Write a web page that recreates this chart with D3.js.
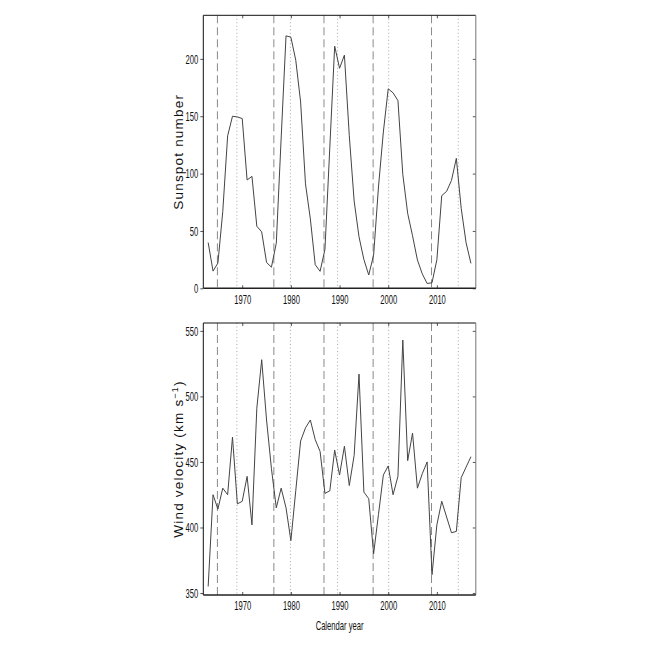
<!DOCTYPE html>
<html><head><meta charset="utf-8">
<script src="https://cdn.jsdelivr.net/npm/d3@7"></script>
<style>body{margin:0;background:#fff} svg{display:block}</style>
</head><body>
<script>
const years = [1963,1964,1965,1966,1967,1968,1969,1970,1971,1972,1973,1974,1975,1976,1977,1978,1979,1980,1981,1982,1983,1984,1985,1986,1987,1988,1989,1990,1991,1992,1993,1994,1995,1996,1997,1998,1999,2000,2001,2002,2003,2004,2005,2006,2007,2008,2009,2010,2011,2012,2013,2014,2015,2016,2017];
const sunspot = [39.9,15.0,22.0,66.8,132.9,150.0,149.4,148.0,94.4,97.6,54.1,49.2,22.5,18.4,39.3,131.0,220.1,218.9,198.9,162.4,91.0,60.5,20.6,14.8,33.9,123.0,211.1,191.8,203.3,133.0,76.1,44.9,25.1,11.6,28.9,88.3,136.3,173.9,170.4,163.6,99.3,65.3,45.8,24.7,12.6,4.2,4.8,24.9,80.8,84.5,94.0,113.3,69.8,39.8,21.7];
const wind = [355,425,414,430,425,469,418,420,439,402,491,528,482,445,415,430,415,390,428,466,476,482,467,458,426,428,459,440,462,432,455,517,427,422,380,410,440,447,425,439,543,451,472,430,441,450,364,402,420,408,396,397,438,446,454];
const cycleMinima = [1964.9, 1976.5, 1986.8, 1996.9, 2008.9];
const cycleMaxima = [1968.9, 1979.9, 1989.6, 2000.1, 2014.4];
const xTicks = [1970, 1980, 1990, 2000, 2010];
const sunTicks = [0, 50, 100, 150, 200];
const windTicks = [350, 400, 450, 500, 550];

const W = 654, H = 654;
const svg = d3.select("body").append("svg").attr("width", W).attr("height", H);
const left = 203.3, right = 475.8;
const x = d3.scaleLinear().domain([1962, 2018]).range([left, right]);
const SX = 0.61;
const tickFont = "'Liberation Sans', Arial, sans-serif";

const panels = [
  {id: "p1", top: 15.3, bottom: 288.3, domain: [0, 238], ticks: sunTicks, values: sunspot, label: "Sunspot number"},
  {id: "p2", top: 323, bottom: 595, domain: [348.5, 556], ticks: windTicks, values: wind, label: null}
];

panels.forEach(p => {
  const y = d3.scaleLinear().domain(p.domain).range([p.bottom, p.top]);
  const g = svg.append("g");
  g.append("clipPath").attr("id", "clip-" + p.id).append("rect")
    .attr("x", left).attr("y", p.top).attr("width", right - left).attr("height", p.bottom - p.top);
  const inner = g.append("g").attr("clip-path", "url(#clip-" + p.id + ")");

  inner.selectAll("line.min").data(cycleMinima).join("line")
    .attr("x1", d => x(d)).attr("x2", d => x(d)).attr("y1", p.top).attr("y2", p.bottom)
    .attr("stroke", "#8a8a8a").attr("stroke-width", 1).attr("stroke-dasharray", "8,4");
  inner.selectAll("line.max").data(cycleMaxima).join("line")
    .attr("x1", d => x(d)).attr("x2", d => x(d)).attr("y1", p.top).attr("y2", p.bottom)
    .attr("stroke", "#a8a8a8").attr("stroke-width", 1).attr("stroke-dasharray", "1,2.5");

  const line = d3.line().x((d, i) => x(years[i])).y(d => y(d));
  inner.append("path").datum(p.values).attr("d", line)
    .attr("fill", "none").attr("stroke", "#444").attr("stroke-width", 1);

  const ax = g.append("g").attr("transform", `translate(0,${p.bottom})`)
    .call(d3.axisBottom(x).tickValues(xTicks).tickFormat(d3.format("d")).tickSizeInner(-3).tickSizeOuter(0));
  ax.select(".domain").remove();
  ax.selectAll("line").attr("stroke", "#555");
  ax.selectAll("text").attr("y", 11).attr("dy", "0.35em").attr("transform", `scale(${SX},1)`)
    .attr("font-family", tickFont).attr("font-size", 12.5).attr("fill", "#111");

  const axT = g.append("g").attr("transform", `translate(0,${p.top})`)
    .call(d3.axisTop(x).tickValues(xTicks).tickFormat("").tickSizeInner(-3).tickSizeOuter(0));
  axT.select(".domain").remove();
  axT.selectAll("line").attr("stroke", "#555");

  const ay = g.append("g").attr("transform", `translate(${left},0)`)
    .call(d3.axisLeft(y).tickValues(p.ticks).tickFormat(d3.format("d")).tickSizeInner(3).tickSizeOuter(0));
  ay.select(".domain").remove();
  ay.selectAll("line").attr("stroke", "#555");
  ay.selectAll("text").attr("x", -5 / SX).attr("dy", "0.35em").attr("transform", `scale(${SX},1)`)
    .attr("font-family", tickFont).attr("font-size", 12.5).attr("fill", "#111");

  const ar = g.append("g").attr("transform", `translate(${right},0)`)
    .call(d3.axisRight(y).tickValues(p.ticks).tickFormat("").tickSizeInner(-3).tickSizeOuter(0));
  ar.select(".domain").remove();
  ar.selectAll("line").attr("stroke", "#555");

  g.append("path").attr("d", `M${left},${p.bottom}V${p.top}H${right}`)
    .attr("fill", "none").attr("stroke", "#111").attr("stroke-width", 1);
  g.append("line").attr("x1", right).attr("x2", right).attr("y1", p.top).attr("y2", p.bottom)
    .attr("stroke", "#777").attr("stroke-width", 1);
  g.append("line").attr("x1", left).attr("x2", right).attr("y1", p.bottom).attr("y2", p.bottom)
    .attr("stroke", "#222").attr("stroke-width", 1.6);

  const cy = (p.top + p.bottom) / 2;
  const t = svg.append("text").attr("transform", `translate(178,${cy}) rotate(-90)`)
    .attr("text-anchor", "middle").attr("dy", "0.35em")
    .attr("font-family", "'Liberation Sans', Arial, sans-serif").attr("font-size", 13.5)
    .attr("letter-spacing", 1.2).attr("fill", "#111");
  if (p.label) {
    t.text(p.label);
  } else {
    t.append("tspan").text("Wind velocity (km s");
    t.append("tspan").attr("font-size", 9).attr("dy", -5).text("\u22121");
    t.append("tspan").attr("dy", 5).text(")");
  }
});

svg.append("text").attr("transform", `translate(${(left + right) / 2},626) scale(${SX},1)`)
  .attr("text-anchor", "middle").attr("dy", "0.35em")
  .attr("font-family", tickFont).attr("font-size", 12.5).attr("fill", "#111")
  .text("Calendar year");
</script>
</body></html>
